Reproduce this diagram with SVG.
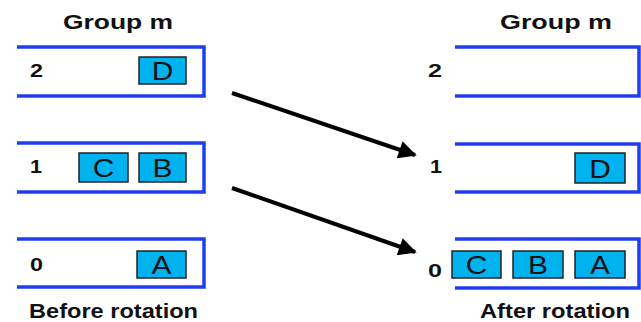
<svg xmlns="http://www.w3.org/2000/svg" width="641" height="322" viewBox="0 0 641 322">
<defs>
<style>
.slot{fill:none;stroke:#1f3df5;stroke-width:3.5;stroke-linejoin:miter}
.box rect{fill:#00b2ee;stroke:#222;stroke-width:1.5}
.box text{font-family:"Liberation Sans",Arial,sans-serif;font-size:26px;fill:#111;text-anchor:middle}
.title{font-family:"Liberation Sans",Arial,sans-serif;font-size:20px;font-weight:bold;fill:#111}
.num{font-family:"Liberation Sans",Arial,sans-serif;font-size:18px;font-weight:bold;fill:#111}
.arrow{stroke:#000;stroke-width:4;fill:none}
</style>
<marker id="ah" viewBox="0 0 10 10" refX="9" refY="5" markerWidth="7.5" markerHeight="4.5" markerUnits="strokeWidth" orient="auto">
<path d="M0,0 L10,5 L0,10 z" fill="#000"/>
</marker>
</defs>
<rect width="641" height="322" fill="#fff"/>

<g id="left">
<text class="title" x="63" y="29" textLength="110" lengthAdjust="spacingAndGlyphs">Group m</text>
<g id="L2"><path class="slot" d="M17,47 H204 V96 H17"/><text class="num" x="30" y="77" textLength="13" lengthAdjust="spacingAndGlyphs">2</text>
<g class="box"><rect x="139" y="57" width="47" height="27"/><text x="162.5" y="80" transform="translate(162.5 0) scale(1.15 1) translate(-162.5 0)">D</text></g></g>
<g id="L1"><path class="slot" d="M17,143 H204 V192 H17"/><text class="num" x="30" y="173" textLength="12" lengthAdjust="spacingAndGlyphs">1</text>
<g class="box"><rect x="79" y="153" width="49" height="29"/><text x="103.5" y="177" transform="translate(103.5 0) scale(1.15 1) translate(-103.5 0)">C</text></g>
<g class="box"><rect x="139" y="153" width="47" height="29"/><text x="162.5" y="177" transform="translate(162.5 0) scale(1.15 1) translate(-162.5 0)">B</text></g></g>
<g id="L0"><path class="slot" d="M17,239 H204 V287 H17"/><text class="num" x="30" y="271" textLength="13" lengthAdjust="spacingAndGlyphs">0</text>
<g class="box"><rect x="137" y="251" width="49" height="27"/><text x="161.5" y="274" transform="translate(161.5 0) scale(1.15 1) translate(-161.5 0)">A</text></g></g>
<text class="title" x="29" y="318" textLength="169" lengthAdjust="spacingAndGlyphs">Before rotation</text>
</g>

<g id="right">
<text class="title" x="500" y="29" textLength="112" lengthAdjust="spacingAndGlyphs">Group m</text>
<g id="R2"><path class="slot" d="M455,47 H639 V96 H455"/><text class="num" x="428" y="77" textLength="14" lengthAdjust="spacingAndGlyphs">2</text></g>
<g id="R1"><path class="slot" d="M455,144 H639 V192 H455"/><text class="num" x="430" y="173" textLength="12" lengthAdjust="spacingAndGlyphs">1</text>
<g class="box"><rect x="575" y="153" width="50" height="30"/><text x="600" y="178" transform="translate(600 0) scale(1.15 1) translate(-600 0)">D</text></g></g>
<g id="R0"><path class="slot" d="M455,239 H639 V288 H455"/><text class="num" x="428" y="277" textLength="14" lengthAdjust="spacingAndGlyphs">0</text>
<g class="box"><rect x="452" y="251" width="49" height="27"/><text x="476.5" y="274" transform="translate(476.5 0) scale(1.15 1) translate(-476.5 0)">C</text></g>
<g class="box"><rect x="513" y="251" width="50" height="27"/><text x="538" y="274" transform="translate(538 0) scale(1.15 1) translate(-538 0)">B</text></g>
<g class="box"><rect x="575" y="251" width="50" height="27"/><text x="600" y="274" transform="translate(600 0) scale(1.15 1) translate(-600 0)">A</text></g></g>
<text class="title" x="480" y="318" textLength="150" lengthAdjust="spacingAndGlyphs">After rotation</text>
</g>

<g id="connectors">
<line class="arrow" x1="232" y1="93" x2="415" y2="155" marker-end="url(#ah)"/>
<line class="arrow" x1="232" y1="188" x2="415" y2="252" marker-end="url(#ah)"/>
</g>
</svg>
